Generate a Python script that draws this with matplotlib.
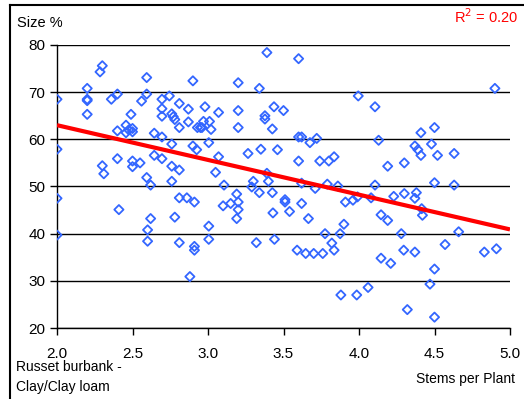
import numpy as np
import matplotlib.pyplot as plt
from matplotlib.lines import Line2D

plt.rcParams['font.family'] = ['Liberation Sans', 'DejaVu Sans']

# Stems per plant vs. size %
stems = [
    2.0, 2.0, 2.0, 2.0,
    2.2, 2.2, 2.2, 2.2,
    2.285, 2.30, 2.30, 2.31, 2.36,
    2.40, 2.40, 2.40, 2.41,
    2.457, 2.457, 2.475, 2.49,
    2.50, 2.50, 2.50, 2.50,
    2.55, 2.56,
    2.594, 2.594, 2.594, 2.60, 2.60, 2.62, 2.62, 2.644, 2.644,
    2.695, 2.695, 2.695, 2.695, 2.695, 2.744,
    2.76, 2.76, 2.76, 2.76, 2.77, 2.78, 2.78,
    2.81, 2.81, 2.81, 2.81, 2.81, 2.86, 2.87, 2.87, 2.88,
    2.90, 2.90, 2.91, 2.91, 2.91, 2.925, 2.93, 2.95, 2.96, 2.97, 2.98,
    3.005, 3.005, 3.005, 3.01, 3.02, 3.05, 3.07, 3.07, 3.10, 3.106, 3.15,
    3.19, 3.19, 3.20, 3.20, 3.20, 3.20, 3.20,
    3.265, 3.29, 3.30, 3.32, 3.34, 3.34, 3.35, 3.377, 3.377,
    3.39, 3.39, 3.40, 3.426, 3.426, 3.43, 3.437, 3.44, 3.46,
    3.50, 3.51, 3.51, 3.54, 3.59, 3.60, 3.60, 3.60, 3.62, 3.62, 3.62,
    3.647, 3.665, 3.675, 3.70, 3.71, 3.72, 3.74, 3.76, 3.775, 3.79, 3.80,
    3.82, 3.835, 3.835, 3.86, 3.875, 3.88, 3.90, 3.91, 3.96, 3.985, 3.99, 3.995,
    4.06, 4.08, 4.106, 4.106, 4.13, 4.146, 4.146, 4.19, 4.19, 4.21, 4.23,
    4.28, 4.296, 4.30, 4.30, 4.32, 4.37, 4.37, 4.37, 4.38, 4.39, 4.41, 4.41,
    4.415, 4.42, 4.47, 4.48, 4.50, 4.50, 4.50, 4.50, 4.52, 4.57, 4.63, 4.63,
    4.66, 4.83, 4.90, 4.91,
]
size_pct = [
    68.5, 57.9, 47.5, 39.7,
    70.8, 68.5, 68.2, 65.3,
    74.3, 75.6, 54.4, 52.7, 68.5,
    69.6, 61.8, 55.9, 45.1,
    63.0, 61.4, 62.0, 65.3,
    62.3, 61.6, 55.4, 54.2,
    55.0, 68.1,
    73.1, 69.6, 51.9, 40.8, 38.4, 50.3, 43.2, 61.3, 56.6,
    68.5, 66.5, 64.9, 60.5, 55.9, 69.2,
    65.4, 59.0, 54.3, 51.1, 64.8, 64.2, 43.5,
    67.6, 62.5, 53.5, 47.6, 38.1, 47.6, 66.4, 63.7, 30.9,
    72.4, 58.6, 46.7, 37.3, 36.5, 57.8, 62.5, 62.5, 62.5, 63.8, 66.9,
    59.3, 41.6, 38.8, 63.8, 62.1, 53.0, 65.7, 56.3, 45.9, 50.3, 46.4,
    48.4, 43.2, 72.0, 66.1, 62.5, 46.7, 45.1,
    57.0, 49.9, 51.1, 38.1, 70.8, 48.7, 57.9, 65.0, 64.3,
    78.4, 52.8, 51.1, 62.2, 48.7, 44.4, 66.9, 38.8, 57.8,
    66.1, 47.2, 46.7, 44.7, 36.5, 77.1, 60.5, 55.4, 60.5, 50.7, 46.4,
    35.8, 43.2, 59.3, 35.8, 49.6, 60.2, 55.4, 35.8, 40.0, 50.5, 55.4,
    38.0, 56.3, 36.5, 50.1, 40.0, 27.0, 42.0, 46.7, 47.1, 27.0, 47.8, 69.2,
    28.6, 47.6, 66.9, 50.3, 59.8, 44.0, 34.8, 54.3, 42.8, 33.7, 47.9,
    40.0, 36.5, 55.0, 48.5, 23.9, 58.6, 47.5, 36.1, 48.7, 57.8, 61.4, 56.6,
    45.3, 43.9, 29.3, 59.0, 62.5, 50.8, 32.5, 22.3, 56.6, 37.7, 57.0, 50.3,
    40.4, 36.1, 70.8, 36.8,
]
x_ticks = [2.0, 2.5, 3.0, 3.5, 4.0, 4.5, 5.0]
y_ticks = [20, 30, 40, 50, 60, 70, 80]

# linear trendline as shown in the reference (value at x=2.0 and at x=5.0)
trend_x = [2.0, 5.0]
trend_y = [63.0, 40.9]

x = np.array(stems)
y = np.array(size_pct)

fig = plt.figure(figsize=(5.24, 3.99), dpi=100)
ax = fig.add_axes([57 / 524, 1 - 328 / 399, 453 / 524, 283 / 399])

ax.scatter(x, y, marker='D', s=22, facecolors='none', edgecolors='#3366ff',
           linewidths=1.3, zorder=3)
ax.plot(trend_x, trend_y, color='#ff0000', lw=3, zorder=4, solid_capstyle='butt')

ax.set_xlim(2.0, 5.0)
ax.set_ylim(20, 80)
ax.set_xticks(x_ticks)
ax.set_xticklabels([f"{t:.1f}" for t in x_ticks])
ax.set_yticks(y_ticks)
ax.tick_params(axis='both', direction='out', length=5, width=1, labelsize=11,
               colors='black')
ax.tick_params(axis='x', pad=9)
ax.grid(axis='y', color='black', lw=1)
ax.set_axisbelow(True)
for s in ['top', 'right']:
    ax.spines[s].set_visible(False)
for s in ['left', 'bottom']:
    ax.spines[s].set_linewidth(1)
    ax.spines[s].set_color('black')

fig.text(17 / 524, 1 - 23 / 399, "Size %", fontsize=10.5, va='center', ha='left')
fig.text(518 / 524, 1 - 17 / 399, "R$^2$ = 0.20", fontsize=10.5, color='#ff0000',
         va='center', ha='right')
fig.text(515 / 524, 1 - 379 / 399, "Stems per Plant", fontsize=10,
         va='center', ha='right')
fig.text(16 / 524, 1 - 377 / 399, "Russet burbank -\nClay/Clay loam", fontsize=10,
         va='center', ha='left', linespacing=1.55)

# outer frame (top and left edges visible in the reference)
fig.add_artist(Line2D([10 / 524, 1], [1 - 5 / 399, 1 - 5 / 399], color='black', lw=1.5))
fig.add_artist(Line2D([10 / 524, 10 / 524], [0, 1 - 5 / 399], color='black', lw=1.5))

fig.savefig("out.png", dpi=100)
